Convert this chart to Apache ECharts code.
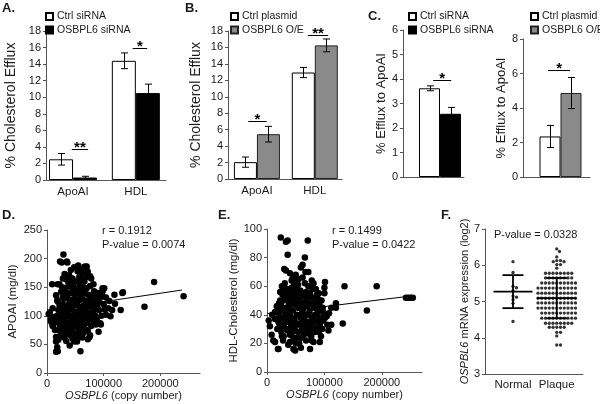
<!DOCTYPE html>
<html><head><meta charset="utf-8">
<script src="https://cdn.jsdelivr.net/npm/echarts@6/dist/echarts.min.js"></script>
<style>html,body{margin:0;padding:0;background:#fff}#c{width:600px;height:404px}</style>
</head><body><div id="c"></div>
<script>
// ================= DATA =================
const barCats = ['ApoAI', 'HDL'];
// A: siRNA knock-down, % cholesterol efflux
const aCtrl = [2.5, 14.4],  aCtrlErr = [0.7, 0.95];
const aKd   = [0.3, 10.5],  aKdErr   = [0.15, 1.08];
// B: over-expression
const bCtrl = [2.05, 12.95], bCtrlErr = [0.62, 0.62];
const bOE   = [5.45, 16.25], bOEErr   = [0.95, 0.78];
// C: % efflux to ApoAI
const cKdCtrl = [3.62], cKdCtrlErr = [0.1];
const cKd     = [2.58], cKdErr     = [0.26];
const cOeCtrl = [2.35], cOeCtrlErr = [0.64];
const cOE     = [4.87], cOEErr     = [0.9];
// significance marks: [xFrom, xTo, y, label] (x in category units)
const aSig  = [[0.98, 1.24, 3.75, '**'], [1.95, 2.18, 15.9, '*']];
const bSig  = [[0.85, 1.17, 7.06, '*'], [1.88, 2.23, 17.55, '**']];
const cKdSig = [[0.83, 1.28, 3.96, '*']];
const cOeSig = [[0.69, 1.24, 6.2, '*']];

// D: OSBPL6 copy number (thousands) vs APOAI (mg/dl)
const dPts = [
[3,103],[5,105],[7,94],[10,84],[14,75],[16,55],[16,37],[18,45],[19,38],[9,155],[29,207],[23,195],[35,195],[26,193],[36,193],
[55,188],[67,186],[70,186],[76,169],[97,136],[119,137],[134,141],[120,121],[130,110],[172,116],[189,159],[241,134],[91,72],
[94,87],[75,63],[72,59],[53,55],[59,38],[133,140],[112,99],[104,102],[101,148],[95,85],[76,66],
[59,182],[65,185],[69,184],[54,178],[45,165],[31,173],[35,163],[39,171],[22,155],[19,155],[78,165],[72,177],[51,160],[60,165],
[61,174],[25,142],[28,133],[83,143],[89,133],[98,148],[98,143],[95,133],[104,132],[89,119],[83,110],[78,101],[80,93],[78,82],
[72,73],[66,85],[54,67],[48,55],[45,60],[39,67],[33,76],[25,73],[22,85],[16,90],[13,98],[10,113],[19,125],[16,136],[18,127],
[22,119],[24,107],[7,90],[10,82],[16,63],[20,58],
[27,150],[33,148],[40,152],[47,150],[52,147],[58,152],[64,150],[70,148],[76,152],[42,140],[48,138],[55,140],[61,142],[67,139],
[73,137],[79,135],[30,130],[36,131],[44,128],[50,130],[57,127],[63,129],[69,126],[75,128],[82,124],[27,120],[33,118],[39,121],
[46,117],[53,119],[59,116],[65,118],[71,115],[78,118],[86,113],[30,110],[37,108],[43,111],[49,107],[56,109],[62,106],[68,108],
[74,105],[81,107],[92,110],[26,100],[32,98],[38,101],[44,97],[51,99],[57,96],[63,100],[69,97],[75,95],[85,100],[29,90],[35,88],
[41,91],[47,87],[53,89],[59,86],[65,90],[71,88],[84,92],[26,80],[32,79],[38,82],[44,78],[50,80],[56,77],[62,79],[68,76],[36,70],
[42,72],[48,69],[58,71],[30,62],[45,64],[52,58],[62,62],[38,157],[46,158],[57,158],[66,160],[34,140],[85,126],[90,140],[100,120],
[108,113],[96,100],[88,95],[102,111],[110,126],[115,110],[28,165],[42,180],[48,185],[62,175],[57,168],[70,168],[82,155],[92,125],
[40,100],[54,104],[66,112],[72,122],[35,105],[24,95],[45,145],[60,135],[52,124],[38,115],[28,85],[56,92],[64,70],[80,115],[20,110],
[18,100],[42,86],[50,94],[58,102],[66,95],[74,100],[86,85],[20,75],[28,70],[34,56],[40,48],[24,66]
];
const dLine = [[0, 110], [238, 145]];
const dStats = ['r = 0.1912', 'P-value = 0.0074'];

// E: OSBPL6 copy number (thousands) vs HDL-cholesterol (mg/dl)
const ePts = [
[24,94],[33,91],[36,92],[71,92],[36,82],[66,80],[62,75],[59,73],[72,70],[67,70],[30,72],[33,71],[40,69],[43,64],[52,64],[55,65],
[78,64],[81,62],[101,63],[100,59],[100,55],[87,54],[89,51],[135,60],[191,60],[120,48],[120,45],[174,43],[132,34],[112,33],[107,29],
[101,38],[98,36],[104,39],[92,21],[78,22],[81,21],[72,27],[66,33],[59,17],[46,16],[49,15],[37,19],[40,21],[28,22],[26,25],[19,16],
[11,22],[14,21],[8,26],[3,36],[5,32],[20,35],[14,37],[20,41],[17,46],[23,56],[26,60],[29,58],[31,55],[23,50],[21,48],
[242,52],[246,52],[250,52],[254,52],[9,40],[14,42],[75,16],[20,16],
[18,30],[22,33],[26,38],[30,42],[34,45],[38,48],[42,52],[46,55],[50,58],[54,61],[58,57],[62,53],[66,49],[70,46],[74,42],[78,38],
[82,35],[86,31],[90,28],[94,25],[25,28],[29,25],[33,30],[37,35],[41,39],[45,43],[49,47],[53,51],[57,45],[61,41],[65,37],[69,33],
[73,29],[77,25],[81,45],[85,48],[89,42],[93,38],[97,45],[44,28],[20,44],[24,47],[28,50],[32,38],[36,29],[40,26],[44,34],[48,37],
[52,40],[56,33],[60,29],[64,26],[68,22],[72,35],[76,48],[80,52],[84,40],[88,36],[92,33],[96,30],[27,54],[31,62],[35,58],[39,55],
[43,59],[47,62],[51,49],[55,45],[59,38],[63,44],[67,40],[71,52],[75,55],[79,58],[83,28],[87,44],[91,47],[95,50],[48,30],[52,24],
[56,20],[60,24],[64,30],[68,56],[72,60],[76,33],[36,40],[40,44],[44,48],[48,52],[52,34],[56,50],[60,48],[64,36],[38,36],[42,32],
[46,24],[50,20],[54,28],[58,34],[30,34],[26,31],[22,38],[34,52],[62,66],[66,62],[45,66],[50,68],[28,45],[85,58],[90,55],[95,36],
[105,33],[108,41],[112,45],[98,42],[70,40],[75,30],[80,30],[55,55]
];
const eLine = [[0, 40.8], [252, 53.2]];
const eStats = ['r = 0.1499', 'P-value = 0.0422'];

// F: OSPBL6 mRNA expression (log2)
const fCats = ['Normal', 'Plaque'];
const fNormal = [6.1, 5.8, 5.42, 5.38, 5.3, 5.15, 5.12, 5.05, 4.95, 4.45];
const fPlaque = [
6.45, 6.38, 6.23, 6.13, 6.13, 6.1, 6.1, 6.02, 6.02, 5.92,
5.78, 5.78, 5.78, 5.78, 5.78, 5.78, 5.78, 5.78,
5.65, 5.65, 5.65, 5.65, 5.65, 5.65, 5.65, 5.65,
5.51, 5.51, 5.51, 5.51, 5.51, 5.51, 5.51, 5.51, 5.51, 5.51,
5.37, 5.37, 5.37, 5.37, 5.37, 5.37, 5.37, 5.37, 5.37, 5.37, 5.37,
5.23, 5.23, 5.23, 5.23, 5.23, 5.23, 5.23, 5.23, 5.23, 5.23, 5.23,
5.09, 5.09, 5.09, 5.09, 5.09, 5.09, 5.09, 5.09, 5.09, 5.09, 5.09,
4.96, 4.96, 4.96, 4.96, 4.96, 4.96, 4.96, 4.96, 4.96, 4.96, 4.96,
4.82, 4.82, 4.82, 4.82, 4.82, 4.82, 4.82, 4.82, 4.82, 4.82, 4.82,
4.68, 4.68, 4.68, 4.68, 4.68, 4.68, 4.68, 4.68, 4.68, 4.68,
4.54, 4.54, 4.54, 4.54, 4.54, 4.54, 4.54, 4.54, 4.54, 4.54,
4.40, 4.40, 4.40, 4.40, 4.40, 4.40, 4.40, 4.40,
4.29, 4.29, 4.29, 4.29, 4.29,
4.15, 4.15, 4.05, 3.80, 3.80
];
const fStat = 'P-value = 0.0328';

// ================= STYLE / LAYOUT =================
const FONT = '"Liberation Sans", Arial, Helvetica, sans-serif';
const TXT = '#1a1a1a';
const AX = '#555';
const GRAY = '#8a8a8a';

const grids = [
  {left: 46,  top: 31,  width: 120, height: 149}, // A
  {left: 228, top: 31,  width: 114, height: 148}, // B
  {left: 403, top: 30,  width: 61,  height: 147}, // C left
  {left: 523, top: 39,  width: 67,  height: 138}, // C right
  {left: 47,  top: 230, width: 153, height: 143}, // D
  {left: 267, top: 229, width: 155, height: 143}, // E
  {left: 485, top: 229, width: 98,  height: 145}  // F
].map(g => Object.assign({outerBoundsMode: 'none', containLabel: false}, g));

function yAx(gi, min, max, interval, name, nameGap, nameSize) {
  return {
    gridIndex: gi, type: 'value', min, max, interval,
    axisLine: {show: true, onZero: false, lineStyle: {color: AX, width: 1}},
    axisTick: {show: true, length: 3, lineStyle: {color: AX}},
    axisLabel: {color: TXT, fontSize: 11, fontFamily: FONT, margin: 5},
    splitLine: {show: false},
    name, nameLocation: 'middle', nameGap,
    nameTextStyle: {color: TXT, fontSize: nameSize, fontFamily: FONT,
      rich: {i: {fontStyle: 'italic', color: TXT, fontSize: nameSize, fontFamily: FONT}}}
  };
}
function catX(gi, min, max, labels, margin) {
  const ax = {
    gridIndex: gi, type: 'value', min, max,
    axisLine: {show: true, onZero: false, lineStyle: {color: AX, width: 1}},
    axisTick: {show: false}, splitLine: {show: false},
    axisLabel: {show: false}
  };
  if (labels) {
    ax.axisLabel = {show: true, customValues: labels.map((_, i) => i + 1),
      formatter: v => labels[Math.round(v) - 1] || '',
      color: TXT, fontSize: 11.5, fontFamily: FONT, margin};
  }
  return ax;
}
function numX(gi, max, ticks) {
  return {
    gridIndex: gi, type: 'value', min: 0, max,
    axisLine: {show: true, onZero: false, lineStyle: {color: AX, width: 1}},
    axisTick: {show: true, length: 3, customValues: ticks, lineStyle: {color: AX}},
    axisLabel: {color: TXT, fontSize: 11, fontFamily: FONT, margin: 5, customValues: ticks,
      formatter: v => String(Math.round(v))},
    splitLine: {show: false},
    name: '{i|OSBPL6} (copy number)', nameLocation: 'middle', nameGap: 17,
    nameTextStyle: {color: TXT, fontSize: 11, fontFamily: FONT,
      rich: {i: {fontStyle: 'italic', color: TXT, fontSize: 11, fontFamily: FONT}}}
  };
}

const whiteStyle = {color: '#fff', borderColor: '#000', borderWidth: 1};
const blackStyle = {color: '#000', borderColor: '#000', borderWidth: 1};
const grayStyle  = {color: GRAY, borderColor: '#222', borderWidth: 1};

function barS(name, gi, vals, bw, style) {
  return {type: 'bar', name, xAxisIndex: gi, yAxisIndex: gi, barWidth: bw, barGap: '0%',
    data: vals.map((v, i) => [i + 1, v]), itemStyle: style, silent: true, z: 2};
}
function errS(gi, vals, errs, dx) {
  return {type: 'custom', xAxisIndex: gi, yAxisIndex: gi, silent: true, z: 5,
    data: vals.map((v, i) => [i + 1, v, errs[i]]),
    renderItem(params, api) {
      const x = api.value(0), y = api.value(1), e = api.value(2);
      const t = api.coord([x, y + e]), b = api.coord([x, y - e]);
      const cx = Math.round(t[0] + dx) + 0.5, w = 3.5;
      const st = {stroke: '#000', lineWidth: 1};
      return {type: 'group', children: [
        {type: 'line', shape: {x1: cx, y1: t[1], x2: cx, y2: b[1]}, style: st},
        {type: 'line', shape: {x1: cx - w, y1: t[1], x2: cx + w, y2: t[1]}, style: st},
        {type: 'line', shape: {x1: cx - w, y1: b[1], x2: cx + w, y2: b[1]}, style: st}
      ]};
    }};
}
function sigS(gi, items) {
  return {type: 'custom', xAxisIndex: gi, yAxisIndex: gi, silent: true, z: 6,
    data: items.map(d => [d[0], d[2], d[1]]),
    renderItem(params, api) {
      const it = items[params.dataIndex];
      const p1 = api.coord([it[0], it[2]]), p2 = api.coord([it[1], it[2]]);
      const y = Math.round(p1[1]) + 0.5;
      return {type: 'group', children: [
        {type: 'line', shape: {x1: p1[0], y1: y, x2: p2[0], y2: y}, style: {stroke: '#000', lineWidth: 1}},
        {type: 'text', x: (p1[0] + p2[0]) / 2, y: y - 2,
          style: {text: it[3], fill: '#000', font: 'bold 15px ' + FONT, align: 'center', verticalAlign: 'middle'}}
      ]};
    }};
}
function swarm(vals, cx, pxX, pxY, d) {
  const placed = [], res = [];
  vals.slice().sort((a, b) => b - a).forEach(v => {
    const py = v * pxY;
    for (let k = 0; k < 800; k++) {
      const off = (k % 2 === 1 ? 1 : -1) * Math.ceil(k / 2) * 0.25;
      let ok = true;
      for (const p of placed) {
        const dx = p[0] - off, dy = p[1] - py;
        if (dx * dx + dy * dy < d * d - 1e-6) { ok = false; break; }
      }
      if (ok) { placed.push([off, py]); res.push([cx + off / pxX, v]); break; }
    }
  });
  return res;
}
function meanSd(a) {
  const m = a.reduce((s, v) => s + v, 0) / a.length;
  const sd = Math.sqrt(a.reduce((s, v) => s + (v - m) * (v - m), 0) / (a.length - 1));
  return [m, sd];
}

const fXmin = 0.36, fXmax = 2.6;
const fPxX = grids[6].width / (fXmax - fXmin), fPxY = grids[6].height / 4;
const fGroups = [fNormal, fPlaque];

const series = [
  // A
  barS('Ctrl siRNA', 0, aCtrl, 24, whiteStyle),
  barS('OSBPL6 siRNA', 0, aKd, 24, blackStyle),
  errS(0, aCtrl, aCtrlErr, -12), errS(0, aKd, aKdErr, 12), sigS(0, aSig),
  // B
  barS('Ctrl plasmid', 1, bCtrl, 23, whiteStyle),
  barS('OSBPL6 O/E', 1, bOE, 23, grayStyle),
  errS(1, bCtrl, bCtrlErr, -11.5), errS(1, bOE, bOEErr, 11.5), sigS(1, bSig),
  // C left
  barS('Ctrl siRNA', 2, cKdCtrl, 21, whiteStyle),
  barS('OSBPL6 siRNA', 2, cKd, 21, blackStyle),
  errS(2, cKdCtrl, cKdCtrlErr, -10.5), errS(2, cKd, cKdErr, 10.5), sigS(2, cKdSig),
  // C right
  barS('Ctrl plasmid', 3, cOeCtrl, 21, whiteStyle),
  barS('OSBPL6 O/E', 3, cOE, 21, grayStyle),
  errS(3, cOeCtrl, cOeCtrlErr, -10.5), errS(3, cOE, cOEErr, 10.5), sigS(3, cOeSig),
  // D
  {type: 'line', xAxisIndex: 4, yAxisIndex: 4, data: dLine.map(p => [p[0] * 1000, p[1]]),
    showSymbol: false, symbol: 'none', lineStyle: {color: '#000', width: 1}, silent: true, z: 1},
  {type: 'scatter', xAxisIndex: 4, yAxisIndex: 4, data: dPts.map(p => [p[0] * 1000, p[1]]),
    symbolSize: 6.5, itemStyle: {color: '#000', opacity: 1}, silent: true, z: 2},
  // E
  {type: 'line', xAxisIndex: 5, yAxisIndex: 5, data: eLine.map(p => [p[0] * 1000, p[1]]),
    showSymbol: false, symbol: 'none', lineStyle: {color: '#000', width: 1}, silent: true, z: 1},
  {type: 'scatter', xAxisIndex: 5, yAxisIndex: 5, data: ePts.map(p => [p[0] * 1000, p[1]]),
    symbolSize: 6.5, itemStyle: {color: '#000', opacity: 1}, silent: true, z: 2},
  // F
  {type: 'scatter', xAxisIndex: 6, yAxisIndex: 6, silent: true, z: 2,
    data: fGroups.flatMap((g, i) => swarm(g, i + 1, fPxX, fPxY, 3.6)),
    symbolSize: 3.3, itemStyle: {color: '#333', opacity: 1}},
  {type: 'custom', xAxisIndex: 6, yAxisIndex: 6, silent: true, z: 4,
    data: fGroups.map((g, i) => { const s = meanSd(g); return [i + 1, s[0], s[1]]; }),
    renderItem(params, api) {
      const x = api.value(0), m = api.value(1), sd = api.value(2);
      const pm = api.coord([x, m]), pt = api.coord([x, m + sd]), pb = api.coord([x, m - sd]);
      const st = {stroke: '#000', lineWidth: 1.8};
      return {type: 'group', children: [
        {type: 'line', shape: {x1: pm[0], y1: pt[1], x2: pm[0], y2: pb[1]}, style: st},
        {type: 'line', shape: {x1: pm[0] - 19.5, y1: pm[1], x2: pm[0] + 19.5, y2: pm[1]}, style: st},
        {type: 'line', shape: {x1: pm[0] - 10.5, y1: pt[1], x2: pm[0] + 10.5, y2: pt[1]}, style: st},
        {type: 'line', shape: {x1: pm[0] - 10.5, y1: pb[1], x2: pm[0] + 10.5, y2: pb[1]}, style: st}
      ]};
    }}
];

function legendAt(left, top, names) {
  return {left, top, orient: 'vertical', data: names, icon: 'rect', itemWidth: 7, itemHeight: 7,
    itemGap: 2.5, padding: 0, selectedMode: false,
    textStyle: {color: TXT, fontSize: 10.5, fontFamily: FONT, padding: [0, 0, 0, -1]}};
}
function label(text, x, y, bold, size) {
  return {type: 'text', x, y, silent: true,
    style: {text, fill: TXT, font: (bold ? 'bold ' : '') + size + 'px ' + FONT, align: 'left', verticalAlign: 'middle'}};
}

const option = {
  animation: false,
  backgroundColor: '#fff',
  grid: grids,
  xAxis: [
    catX(0, 0.57, 2.48, barCats, 6),
    catX(1, 0.5, 2.47, barCats, 6),
    catX(2, 0.075, 1.6, null),
    catX(3, 0.0625, 1.7375, null),
    numX(4, 270000, [0, 100000, 200000]),
    numX(5, 270000, [0, 100000, 200000]),
    catX(6, fXmin, fXmax, fCats, 5)
  ],
  yAxis: [
    yAx(0, 0, 18, 2, '% Cholesterol Efflux', 28, 14),
    yAx(1, 0, 18, 2, '% Cholesterol Efflux', 25, 14),
    yAx(2, 0, 6, 1, '% Efflux to ApoAI', 11, 13),
    yAx(3, 0, 8, 2, '% Efflux to ApoAI', 12, 13),
    yAx(4, 0, 250, 50, 'APOAI (mg/dl)', 28, 11.5),
    yAx(5, 0, 100, 20, 'HDL-Cholesterol (mg/dl)', 15, 11.5),
    yAx(6, 3, 7, 1, '{i|OSPBL6} mRNA expression (log2)', 15, 11)
  ],
  legend: [
    legendAt(45, 11, ['Ctrl siRNA', 'OSBPL6 siRNA']),
    legendAt(230, 11, ['Ctrl plasmid', 'OSBPL6 O/E']),
    legendAt(408, 11, ['Ctrl siRNA', 'OSBPL6 siRNA']),
    legendAt(530, 11, ['Ctrl plasmid', 'OSBPL6 O/E'])
  ],
  graphic: [
    label('A.', 2, 8, true, 13),
    label('B.', 185, 8, true, 13),
    label('C.', 368, 16, true, 13),
    label('D.', 2, 215, true, 13),
    label('E.', 218, 215, true, 13),
    label('F.', 441, 215, true, 13),
    label(dStats[0], 102, 231, false, 11),
    label(dStats[1], 102, 245, false, 11),
    label(eStats[0], 332, 231, false, 11),
    label(eStats[1], 332, 245, false, 11),
    label(fStat, 494, 235, false, 11)
  ],
  series
};

const chart = echarts.init(document.getElementById('c'), null, {renderer: 'canvas'});
chart.setOption(option);
</script>
</body></html>
